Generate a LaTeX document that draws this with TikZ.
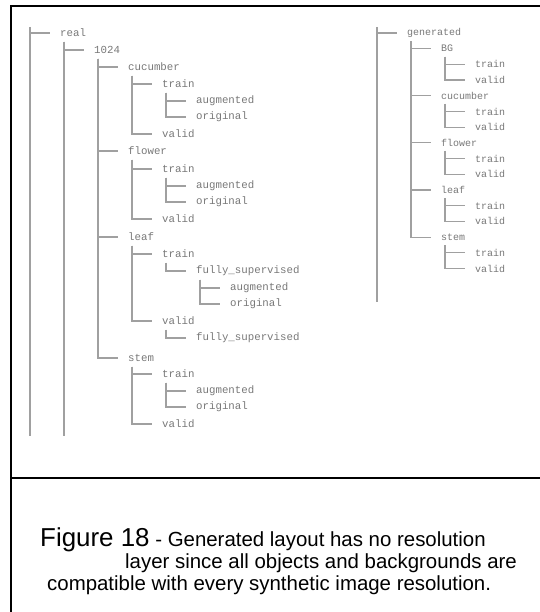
\documentclass[tikz,border=0pt]{standalone}
\usepackage{fontspec}
\setmainfont{Liberation Sans}
\newfontfamily\treefont{Liberation Mono}
\definecolor{textgrey}{RGB}{120,120,120}
\definecolor{linegrey}{RGB}{160,160,160}
\begin{document}
\begin{tikzpicture}[x=1bp,y=-1bp,
  ln/.style={anchor=west, inner sep=0pt, minimum height=16.8bp, text=textgrey, font=\treefont\fontsize{10.8}{12}\selectfont},
  rn/.style={anchor=west, inner sep=0pt, minimum height=15.7bp, text=textgrey, font=\treefont\fontsize{10}{12}\selectfont},
  br/.style={draw=linegrey, line width=1.2bp},
  frame/.style={draw=black, line width=2bp}]
\useasboundingbox (0,0) rectangle (540,612);
% frame
\draw[frame] (11,612) -- (11,6) -- (540,6);
\draw[frame] (11,478) -- (540,478);
% ---------- left tree ----------
\node[ln] (real) at (60,33) {real};
\node[ln] (n1024) at (94,50) {1024};
\node[ln] (cuc) at (128,67) {cucumber};
\node[ln] (ctrain) at (162,84) {train};
\node[ln] (caug) at (196,101) {augmented};
\node[ln] (corig) at (196,117) {original};
\node[ln] (cvalid) at (162,134) {valid};
\node[ln] (flo) at (128,151) {flower};
\node[ln] (ftrain) at (162,169) {train};
\node[ln] (faug) at (196,186) {augmented};
\node[ln] (forig) at (196,202) {original};
\node[ln] (fvalid) at (162,219) {valid};
\node[ln] (leaf) at (128,237) {leaf};
\node[ln] (ltrain) at (162,254) {train};
\node[ln] (lfully) at (196,271) {fully\_supervised};
\node[ln] (laug) at (230,288) {augmented};
\node[ln] (lorig) at (230,304) {original};
\node[ln] (lvalid) at (162,321) {valid};
\node[ln] (lvfully) at (196,338) {fully\_supervised};
\node[ln] (stem) at (128,358) {stem};
\node[ln] (strain) at (162,374) {train};
\node[ln] (saug) at (196,391) {augmented};
\node[ln] (sorig) at (196,407) {original};
\node[ln] (svalid) at (162,424) {valid};
\coordinate (ltop) at (30,27);
\coordinate (lbot) at (30,436);
\draw[br] (ltop) -- (lbot);
\draw[br] (ltop |- real.west) -- ([xshift=-10bp]real.west);
\draw[br] ([xshift=4bp]real.south west) -- ([xshift=4bp]real.south west |- lbot);
\foreach \p/\c in {real/n1024, n1024/cuc, n1024/flo, n1024/leaf, n1024/stem,
  cuc/ctrain, cuc/cvalid, ctrain/caug, ctrain/corig,
  flo/ftrain, flo/fvalid, ftrain/faug, ftrain/forig,
  leaf/ltrain, leaf/lvalid, ltrain/lfully, lfully/laug, lfully/lorig, lvalid/lvfully,
  stem/strain, stem/svalid, strain/saug, strain/sorig}
  \draw[br] ([xshift=4bp]\p.south west) |- ([xshift=-10bp]\c.west);
% ---------- right tree ----------
\node[rn] (gen) at (407,33) {generated};
\node[rn] (bg) at (441,48.7) {BG};
\node[rn] (bgtrain) at (475,64.4) {train};
\node[rn] (bgvalid) at (475,80.1) {valid};
\node[rn] (gcuc) at (441,95.8) {cucumber};
\node[rn] (gctrain) at (475,111.5) {train};
\node[rn] (gcvalid) at (475,127.2) {valid};
\node[rn] (gflo) at (441,142.9) {flower};
\node[rn] (gftrain) at (475,158.6) {train};
\node[rn] (gfvalid) at (475,174.3) {valid};
\node[rn] (gleaf) at (441,190) {leaf};
\node[rn] (gltrain) at (475,205.7) {train};
\node[rn] (glvalid) at (475,221.4) {valid};
\node[rn] (gstem) at (441,237.1) {stem};
\node[rn] (gstrain) at (475,252.8) {train};
\node[rn] (gsvalid) at (475,268.5) {valid};
\coordinate (rtop) at (377,27);
\coordinate (rbot) at (377,302);
\draw[br] (rtop) -- (rbot);
\draw[br] (rtop |- gen.west) -- ([xshift=-10bp]gen.west);
\foreach \p/\c in {gen/bg, gen/gcuc, gen/gflo, gen/gleaf, gen/gstem,
  bg/bgtrain, bg/bgvalid, gcuc/gctrain, gcuc/gcvalid, gflo/gftrain, gflo/gfvalid,
  gleaf/gltrain, gleaf/glvalid, gstem/gstrain, gstem/gsvalid}
  \draw[br] ([xshift=4bp]\p.south west) |- ([xshift=-10bp]\c.west);
% ---------- caption ----------
\node[anchor=base west, inner sep=0pt] (cap1) at (40,546)
  {\fontsize{26}{30}\selectfont Figure 18\fontsize{20.5}{24}\selectfont{} - Generated layout has no resolution};
\node[anchor=base west, inner sep=0pt] (cap2) at (125,568)
  {\fontsize{20.5}{24}\selectfont layer since all objects and backgrounds are};
\node[anchor=base west, inner sep=0pt] (cap3) at (47,590)
  {\fontsize{20.5}{24}\selectfont compatible with every synthetic image resolution.};
\end{tikzpicture}
\end{document}
